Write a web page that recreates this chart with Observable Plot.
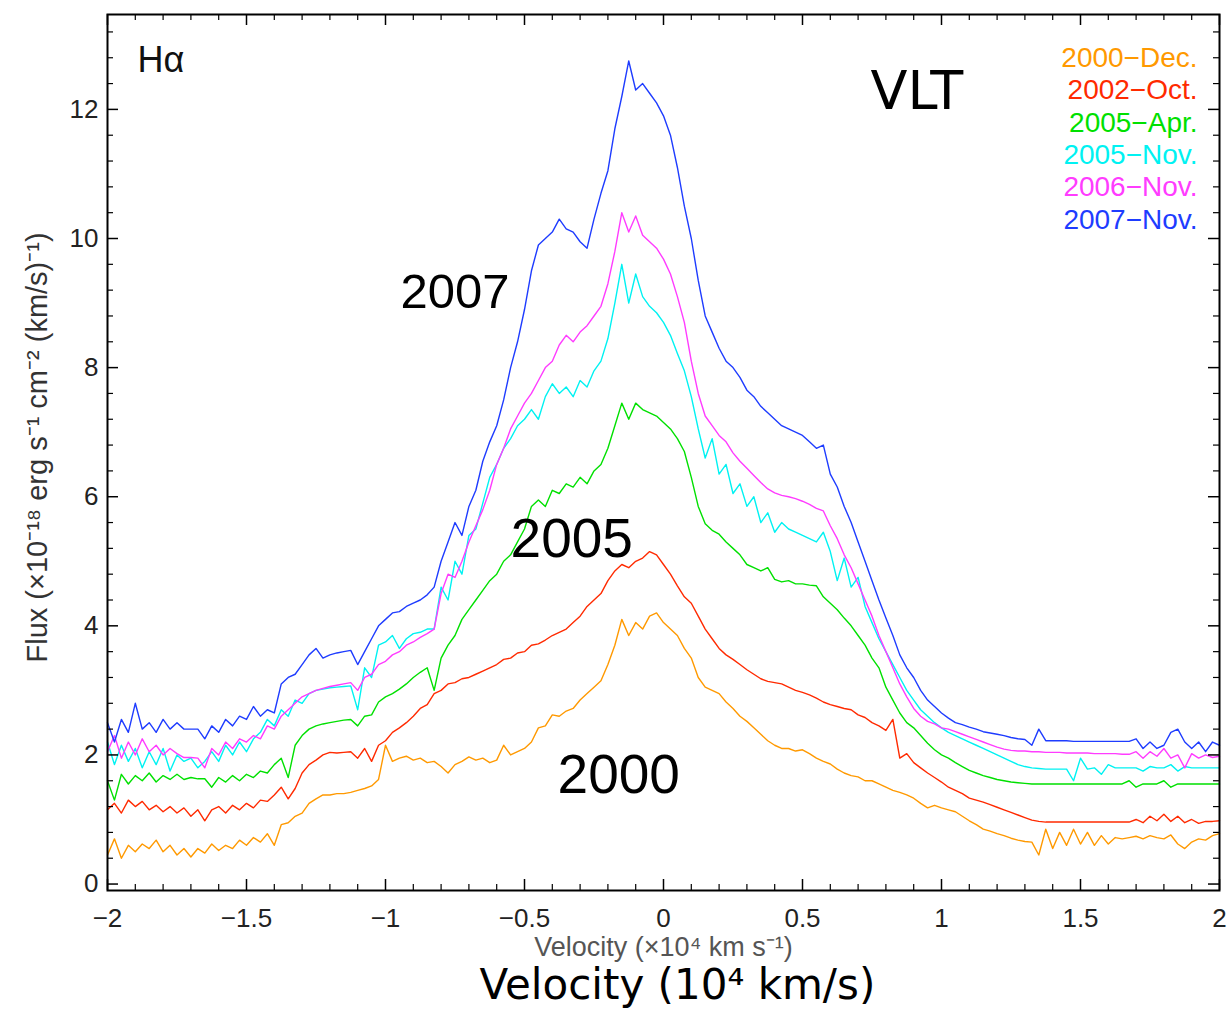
<!DOCTYPE html>
<html><head><meta charset="utf-8">
<script src="https://cdn.jsdelivr.net/npm/d3@7"></script>
<script src="https://cdn.jsdelivr.net/npm/@observablehq/plot@0.6"></script>
<style>body{margin:0;background:#fff}</style>
</head><body><div id="chart"></div>
<script>
// velocity grid (10^4 km/s), step 0.025
const velocity = d3.range(161).map(i => +(-2 + i * 0.025).toFixed(3));
const seriesNames = ["2000\u2212Dec.", "2002\u2212Oct.", "2005\u2212Apr.", "2005\u2212Nov.", "2006\u2212Nov.", "2007\u2212Nov."];

const flux2000Dec = [
0.45,0.70,0.40,0.60,0.50,0.62,0.55,0.68,0.50,0.60,
0.45,0.55,0.42,0.55,0.48,0.62,0.52,0.60,0.55,0.68,
0.60,0.72,0.65,0.78,0.60,0.92,0.95,1.05,1.10,1.25,
1.32,1.38,1.38,1.40,1.40,1.42,1.45,1.48,1.52,1.62,
2.15,1.90,1.95,1.98,1.92,1.95,1.88,1.90,1.82,1.72,
1.85,1.90,1.97,1.92,1.95,1.88,1.92,2.15,2.00,2.05,
2.10,2.20,2.42,2.45,2.62,2.60,2.68,2.72,2.85,2.95,
3.05,3.15,3.40,3.70,4.10,3.85,4.05,3.95,4.15,4.20,
4.05,3.95,3.85,3.65,3.50,3.20,3.05,3.00,2.95,2.82,
2.72,2.60,2.52,2.42,2.32,2.22,2.15,2.10,2.10,2.06,
2.08,2.02,1.95,1.90,1.86,1.78,1.72,1.68,1.66,1.60,
1.60,1.55,1.50,1.45,1.42,1.38,1.33,1.25,1.18,1.22,
1.18,1.15,1.12,1.05,0.98,0.92,0.85,0.82,0.78,0.75,
0.71,0.68,0.66,0.65,0.45,0.85,0.55,0.80,0.60,0.85,
0.62,0.80,0.60,0.75,0.62,0.72,0.70,0.72,0.74,0.70,
0.75,0.72,0.70,0.76,0.62,0.55,0.65,0.70,0.68,0.75,0.78];

const flux2002Oct = [
1.15,1.25,1.10,1.30,1.20,1.28,1.15,1.22,1.12,1.20,
1.10,1.18,1.05,1.15,0.98,1.15,1.20,1.10,1.22,1.15,
1.25,1.18,1.30,1.28,1.38,1.50,1.32,1.48,1.72,1.85,
1.92,2.00,2.04,2.03,2.04,2.05,1.95,2.10,1.90,2.15,
2.22,2.35,2.42,2.50,2.60,2.72,2.78,2.95,3.00,3.10,
3.12,3.18,3.20,3.25,3.30,3.35,3.40,3.48,3.50,3.58,
3.60,3.70,3.72,3.78,3.85,3.90,3.95,4.05,4.15,4.30,
4.40,4.50,4.70,4.85,4.95,4.90,5.00,5.05,5.15,5.10,
4.95,4.80,4.62,4.45,4.35,4.15,3.95,3.80,3.65,3.55,
3.48,3.40,3.32,3.25,3.18,3.14,3.12,3.10,3.05,3.00,
2.97,2.93,2.88,2.82,2.78,2.75,2.72,2.70,2.62,2.58,
2.50,2.45,2.38,2.55,1.95,2.02,1.88,1.80,1.72,1.65,
1.58,1.50,1.45,1.40,1.33,1.30,1.27,1.23,1.19,1.15,
1.11,1.07,1.03,0.99,0.97,0.96,0.96,0.96,0.96,0.96,
0.96,0.96,0.96,0.96,0.96,0.96,0.96,0.96,1.00,0.95,
1.05,0.98,1.08,0.97,1.05,0.95,1.00,0.94,0.97,0.97,0.98];

const flux2005Apr = [
1.60,1.30,1.70,1.55,1.68,1.60,1.72,1.58,1.68,1.62,
1.70,1.62,1.65,1.63,1.63,1.50,1.65,1.58,1.68,1.60,
1.70,1.65,1.75,1.72,1.85,1.95,1.65,2.15,2.30,2.40,
2.45,2.48,2.50,2.52,2.54,2.55,2.45,2.60,2.62,2.82,
2.90,2.95,3.02,3.10,3.20,3.28,3.35,3.00,3.50,3.70,
3.85,4.10,4.25,4.40,4.55,4.70,4.80,5.00,5.10,5.30,
5.50,5.85,5.95,5.85,6.10,6.05,6.20,6.15,6.30,6.20,
6.40,6.50,6.75,7.10,7.45,7.20,7.45,7.35,7.30,7.25,
7.15,7.05,6.90,6.70,6.30,5.85,5.58,5.48,5.42,5.30,
5.20,5.10,4.95,4.90,4.85,4.90,4.72,4.68,4.70,4.65,
4.65,4.63,4.62,4.45,4.35,4.25,4.12,4.00,3.85,3.70,
3.50,3.35,3.05,2.85,2.65,2.50,2.42,2.30,2.18,2.08,
2.00,1.95,1.88,1.82,1.76,1.72,1.68,1.65,1.62,1.60,
1.58,1.57,1.56,1.55,1.55,1.55,1.55,1.55,1.55,1.55,
1.55,1.55,1.55,1.55,1.55,1.55,1.55,1.60,1.50,1.55,
1.55,1.55,1.60,1.50,1.55,1.55,1.55,1.55,1.55,1.55,1.55];

const flux2005Nov = [
2.20,1.85,2.15,1.90,2.10,1.80,2.05,1.85,2.10,1.75,
2.00,1.90,1.95,1.80,1.90,2.05,1.90,2.15,2.00,2.20,
2.05,2.25,2.35,2.55,2.45,2.70,2.60,2.85,2.80,2.95,
3.00,3.02,3.04,3.05,3.06,3.07,2.70,3.35,3.20,3.70,
3.75,3.85,3.65,3.80,3.88,3.90,3.95,3.95,4.60,4.40,
5.00,4.80,5.40,5.50,5.90,6.30,6.50,6.75,6.90,7.10,
7.20,7.35,7.20,7.55,7.75,7.60,7.70,7.55,7.80,7.70,
7.95,8.10,8.45,9.00,9.60,9.00,9.45,9.10,8.95,8.85,
8.70,8.50,8.22,7.95,7.55,7.05,6.60,6.90,6.35,6.50,
6.05,6.20,5.85,6.00,5.60,5.75,5.45,5.60,5.50,5.45,
5.40,5.35,5.30,5.45,5.15,4.70,5.05,4.60,4.75,4.30,
4.05,3.80,3.60,3.40,3.20,3.00,2.85,2.70,2.60,2.50,
2.42,2.35,2.30,2.25,2.20,2.15,2.10,2.05,2.00,1.95,
1.90,1.85,1.82,1.80,1.79,1.78,1.78,1.78,1.78,1.60,
1.95,1.78,1.80,1.70,1.85,1.80,1.80,1.80,1.80,1.75,
1.82,1.80,1.80,1.85,1.75,1.82,1.80,1.80,1.80,1.80,1.80];

const flux2006Nov = [
2.05,2.30,1.95,2.20,2.00,2.25,2.05,2.15,2.00,2.10,
2.02,1.96,1.96,1.95,1.80,2.10,2.00,2.20,2.10,2.25,
2.20,2.30,2.25,2.45,2.40,2.60,2.70,2.80,2.90,2.95,
3.00,3.03,3.06,3.08,3.10,3.12,3.00,3.20,3.25,3.40,
3.45,3.55,3.60,3.70,3.75,3.82,3.88,3.95,4.50,4.80,
4.75,5.00,5.30,5.55,5.80,6.10,6.50,6.75,7.05,7.25,
7.45,7.60,7.80,8.00,8.10,8.35,8.50,8.40,8.55,8.65,
8.80,8.95,9.30,9.80,10.40,10.10,10.35,10.05,9.95,9.85,
9.68,9.45,9.10,8.70,8.10,7.60,7.25,7.10,6.95,6.85,
6.68,6.55,6.44,6.33,6.22,6.12,6.06,6.02,6.00,5.97,
5.93,5.88,5.82,5.78,5.55,5.35,5.10,4.90,4.65,4.40,
4.15,3.85,3.60,3.35,3.10,2.90,2.72,2.60,2.52,2.48,
2.42,2.40,2.36,2.32,2.28,2.24,2.20,2.16,2.12,2.09,
2.07,2.06,2.06,2.05,2.05,2.04,2.04,2.04,2.03,2.03,
2.03,2.03,2.02,2.02,2.02,2.02,2.01,2.01,2.05,1.95,
2.05,1.98,2.10,1.95,2.00,1.80,2.02,1.95,2.00,1.96,1.98];

const flux2007Nov = [
2.50,2.20,2.55,2.35,2.80,2.40,2.50,2.35,2.55,2.40,
2.50,2.40,2.40,2.40,2.25,2.45,2.35,2.55,2.45,2.60,
2.55,2.75,2.60,2.70,2.65,3.10,3.20,3.25,3.40,3.55,
3.65,3.50,3.55,3.58,3.60,3.62,3.40,3.60,3.80,4.00,
4.10,4.20,4.22,4.30,4.35,4.40,4.48,4.60,5.00,5.30,
5.60,5.40,5.85,6.10,6.55,6.85,7.10,7.50,8.00,8.40,
8.90,9.50,9.90,10.00,10.10,10.30,10.15,10.10,9.95,9.85,
10.30,10.70,11.05,11.70,12.20,12.75,12.30,12.40,12.25,12.10,
11.90,11.60,11.10,10.50,10.00,9.35,8.80,8.55,8.30,8.10,
8.00,7.85,7.65,7.55,7.40,7.30,7.20,7.10,7.05,7.00,
6.95,6.85,6.75,6.80,6.35,6.15,5.85,5.60,5.30,5.00,
4.70,4.40,4.12,3.85,3.55,3.35,3.20,3.00,2.85,2.75,
2.65,2.57,2.50,2.47,2.43,2.40,2.36,2.34,2.32,2.30,
2.27,2.25,2.24,2.15,2.40,2.22,2.22,2.22,2.22,2.21,
2.21,2.21,2.21,2.21,2.21,2.21,2.21,2.21,2.25,2.10,
2.20,2.10,2.15,2.35,2.40,2.20,2.10,2.20,2.05,2.20,2.15];

const fluxBySeries = [flux2000Dec, flux2002Oct, flux2005Apr, flux2005Nov, flux2006Nov, flux2007Nov];
const seriesColors = ["#ff9900", "#ff2a00", "#00e000", "#00f2f2", "#ff3cff", "#1e3cff"];

const xMajor = [-2, -1.5, -1, -0.5, 0, 0.5, 1, 1.5, 2];
const yMajor = [0, 2, 4, 6, 8, 10, 12];
const xMinor = d3.range(-20, 21).filter(i => i % 5 !== 0).map(i => i / 10);
const yMinor = d3.range(1, 34).filter(i => i % 5 !== 0).map(i => +(i * 0.4).toFixed(1));

const data = seriesNames.flatMap((s, k) => fluxBySeries[k].map((f, i) => ({series: s, v: velocity[i], f})));

const W = 1230, H = 1014, ML = 107, MR = 11, MT = 14, MB = 124;
const FW = W - ML - MR, FH = H - MT - MB;
const fmt = d => (d < 0 ? "\u2212" : "") + Math.abs(d);
const sans = "'Liberation Sans', Arial, Helvetica, sans-serif";

const chart = Plot.plot({
  width: W, height: H,
  marginLeft: ML, marginRight: MR, marginTop: MT, marginBottom: MB,
  style: {fontFamily: sans, fontSize: "26px", background: "white", color: "black"},
  x: {domain: [-2, 2], axis: null},
  y: {domain: [-0.1, 13.47], axis: null},
  color: {domain: seriesNames, range: seriesColors},
  marks: [
    Plot.line(data, {x: "v", y: "f", z: "series", stroke: "series", strokeWidth: 1.4, strokeLinejoin: "round"}),
    Plot.frame({stroke: "black", strokeWidth: 2}),
    // ticks inside the frame on all four sides
    Plot.ruleX(xMajor, {x: d => d, insetTop: FH - 11, stroke: "black", strokeWidth: 1.5}),
    Plot.ruleX(xMajor, {x: d => d, insetBottom: FH - 11, stroke: "black", strokeWidth: 1.5}),
    Plot.ruleX(xMinor, {x: d => d, insetTop: FH - 6, stroke: "black", strokeWidth: 1.2}),
    Plot.ruleX(xMinor, {x: d => d, insetBottom: FH - 6, stroke: "black", strokeWidth: 1.2}),
    Plot.ruleY(yMajor, {y: d => d, insetRight: FW - 11, stroke: "black", strokeWidth: 1.5}),
    Plot.ruleY(yMajor, {y: d => d, insetLeft: FW - 11, stroke: "black", strokeWidth: 1.5}),
    Plot.ruleY(yMinor, {y: d => d, insetRight: FW - 6, stroke: "black", strokeWidth: 1.2}),
    Plot.ruleY(yMinor, {y: d => d, insetLeft: FW - 6, stroke: "black", strokeWidth: 1.2}),
    // tick labels
    Plot.text(xMajor, {x: d => d, y: -0.1, dy: 18, lineAnchor: "top", text: fmt, fontSize: 26, fill: "#222"}),
    Plot.text(yMajor, {x: -2, y: d => d, dx: -9, textAnchor: "end", lineAnchor: "middle", text: fmt, fontSize: 26, fill: "#222"}),
    // legend
    Plot.text(seriesNames, {x: 1.921, y: (d, i) => 12.654 - 0.5 * i, text: d => d, fill: d => d, textAnchor: "end", lineAnchor: "bottom", fontSize: 28}),
    // annotations
    Plot.text(["H\u03b1"], {x: -1.892, y: 12.572, text: d => d, textAnchor: "start", lineAnchor: "bottom", fontSize: 36, fill: "#111"}),
    Plot.text(["VLT"], {x: 0.745, y: 12.0, text: d => d, textAnchor: "start", lineAnchor: "bottom", fontSize: 54, fontFamily: "'DejaVu Sans', sans-serif", fill: "black"}),
    Plot.text(["2007"], {x: -0.946, y: 8.916, text: d => d, textAnchor: "start", lineAnchor: "bottom", fontSize: 49, fill: "black"}),
    Plot.text(["2005"], {x: -0.55, y: 5.059, text: d => d, textAnchor: "start", lineAnchor: "bottom", fontSize: 55, fill: "black"}),
    Plot.text(["2000"], {x: -0.381, y: 1.418, text: d => d, textAnchor: "start", lineAnchor: "bottom", fontSize: 55, fill: "black"}),
    // axis titles
    Plot.text(["Flux (\u00d710\u207b\u00b9\u2078 erg s\u207b\u00b9 cm\u207b\u00b2 (km/s)\u207b\u00b9)"], {x: -2.219, y: 6.763, text: d => d, rotate: -90, textAnchor: "middle", lineAnchor: "bottom", fontSize: 29, fill: "#333"}),
    Plot.text(["Velocity (\u00d710\u2074 km s\u207b\u00b9)"], {x: 0, y: -1.11, text: d => d, textAnchor: "middle", lineAnchor: "bottom", fontSize: 27, fill: "#555"}),
    Plot.text(["Velocity (10\u2074 km/s)"], {x: 0.05, y: -1.78, text: d => d, textAnchor: "middle", lineAnchor: "bottom", fontSize: 42, fontFamily: "'DejaVu Sans', sans-serif", fill: "black"})
  ]
});
document.getElementById("chart").append(chart);
</script>
</body></html>
